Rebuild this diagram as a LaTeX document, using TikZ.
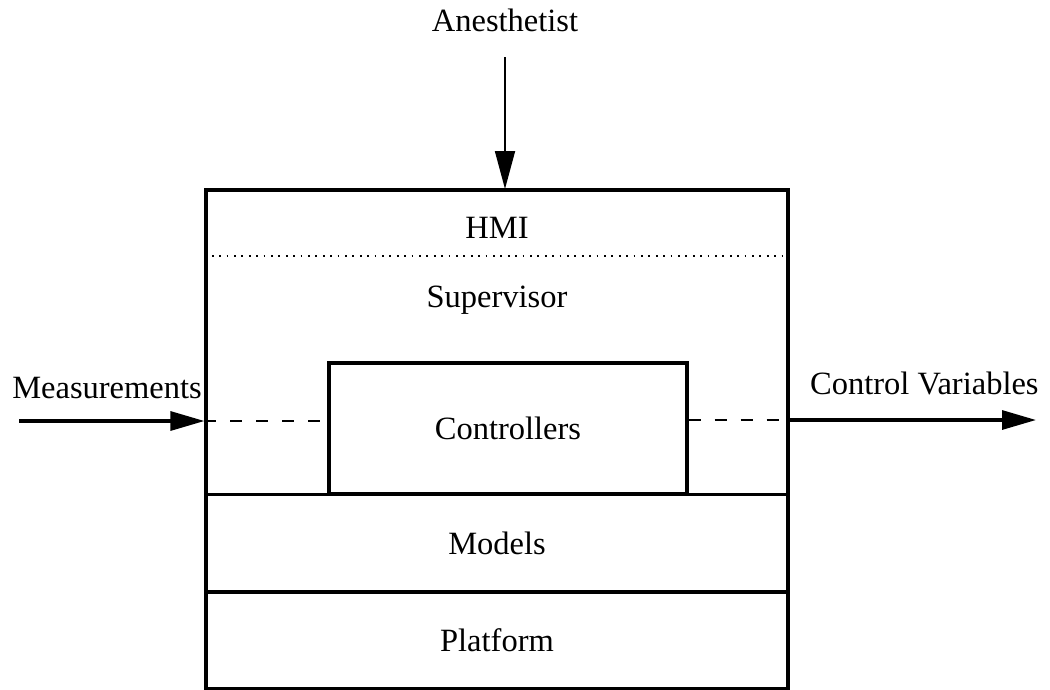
\documentclass[tikz,border=0pt]{standalone}
\usepackage{fontspec}
\setmainfont{Liberation Serif}
\newfontfamily\tmsfont{Liberation Serif}
\usetikzlibrary{arrows.meta}
\begin{document}
\begin{tikzpicture}[x=1pt,y=-1pt,
  lbl/.style={font=\tmsfont\fontsize{32.5}{36}\selectfont, inner sep=0pt},
  layer/.style={draw, line width=3.2pt, rectangle, inner sep=0pt},
  bigarrow/.style={line width=3.2pt, -{Triangle[length=34pt,width=19pt]}},
  thinarrow/.style={line width=1.8pt, -{Triangle[length=38pt,width=20pt]}},
  dashline/.style={line width=2.6pt, dash pattern=on 12pt off 14pt},
  dotline/.style={line width=2.4pt, dash pattern=on 1.8pt off 5.6pt}]
\useasboundingbox (0,0) rectangle (1050,689);
% outer frame
\node[layer, minimum width=582pt, minimum height=499pt] (frame) at (497,439.5) {};
% layers
\node[layer, minimum width=582pt, minimum height=97pt] (models) at (497,543) {};
\node[layer, minimum width=582pt, minimum height=97pt] (platform) at (497,640.5) {};
\node[layer, minimum width=358pt, minimum height=131pt] (ctrl) at (508,428.5) {};
\node[lbl] at (ctrl.center) {Controllers};
\node[lbl] at (models.center) {Models};
\node[lbl] at (platform.center) {Platform};
\node[lbl] (hmi) at (497,228) {HMI};
\node[lbl] (sup) at (497,300) {Supervisor};
\draw[dotline] (frame.west |- 0,256) -- (frame.east |- 0,256);
% external
\node[lbl] (anes) at (505,20) {Anesthetist};
\node[lbl, anchor=east] (meas) at (202,388) {Measurements};
\node[lbl, anchor=west] (cv) at (810,383) {Control Variables};
\coordinate (atop) at (505,189);
\coordinate (mstart) at (19,421);
\coordinate (min) at (frame.west |- 0,421);
\coordinate (cin) at (ctrl.west |- 0,421);
\coordinate (cout) at (ctrl.east |- 0,420);
\coordinate (mout) at (frame.east |- 0,420);
\coordinate (cvend) at (1036,420);
\draw[thinarrow] (anes.south |- 0,57) -- (atop);
\draw[bigarrow] (mstart) -- (min);
\draw[dashline] (min) -- (cin);
\draw[dashline] (cout) -- (mout);
\draw[bigarrow] (mout) -- (cvend);
\end{tikzpicture}
\end{document}
